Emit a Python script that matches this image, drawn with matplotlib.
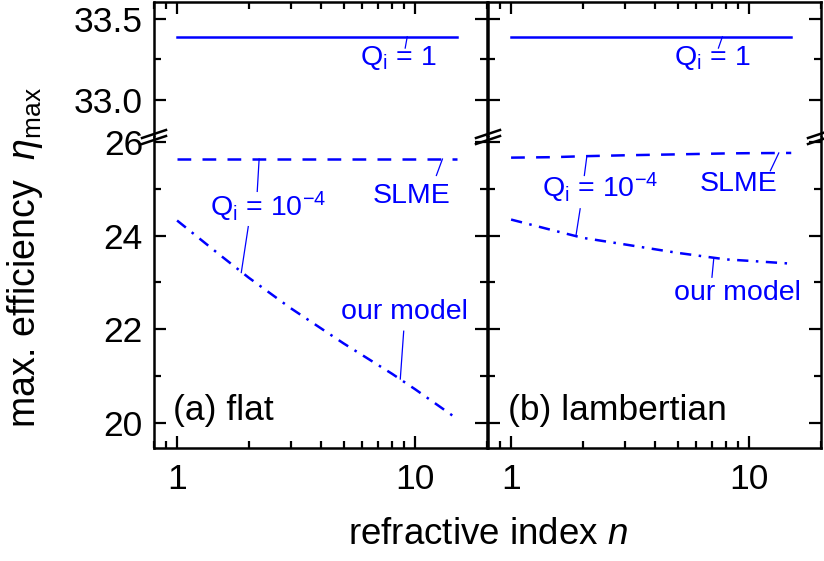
import numpy as np
import matplotlib
matplotlib.use('Agg')
import matplotlib.pyplot as plt
from matplotlib.ticker import LogLocator, NullFormatter, FixedLocator
from matplotlib.lines import Line2D

plt.rcParams['font.family'] = ['Liberation Sans', 'DejaVu Sans']
plt.rcParams['mathtext.fontset'] = 'custom'
plt.rcParams['mathtext.rm'] = 'Liberation Sans'
plt.rcParams['mathtext.it'] = 'Liberation Sans:italic'

# Data
n_vals = [1, 1.5, 2, 3, 5, 8, 10, 15]
q1_flat = [33.39] * 8
q1_lamb = [33.39] * 8
slme_flat = [25.63, 25.63, 25.63, 25.63, 25.63, 25.63, 25.63, 25.63]
slme_lamb = [25.66, 25.67, 25.69, 25.71, 25.73, 25.75, 25.755, 25.76]
model_flat = [24.32, 23.6, 23.1, 22.45, 21.7, 21.05, 20.72, 20.09]
model_lamb = [24.34, 24.11, 23.95, 23.81, 23.63, 23.49, 23.46, 23.40]

blue = '#0000ff'
W, H = 824, 561
fig = plt.figure(figsize=(W / 100, H / 100), dpi=100)

x_left = [154, 488]
pw = 333
top_px, brk_px, bot_px = 2, 137, 448


def fx(px):
    return px / W


def fy(py):
    return 1 - py / H


def style(ax, upper, show_labels):
    ax.set_xscale('log')
    ax.set_xlim(0.8, 20)
    for s in ax.spines.values():
        s.set_linewidth(1.8)
    ax.tick_params(which='both', direction='in', width=1.6, labelsize=25.5,
                   left=True, right=True)
    ax.tick_params(axis='y', pad=8)
    ax.tick_params(axis='x', pad=11)
    ax.tick_params(which='major', length=8.5)
    ax.tick_params(which='minor', length=5)
    ax.xaxis.set_major_locator(FixedLocator([1, 10]))
    ax.xaxis.set_minor_locator(LogLocator(base=10, subs=np.arange(2, 10)))
    ax.xaxis.set_minor_formatter(NullFormatter())
    if upper:
        ax.spines['bottom'].set_visible(False)
        ax.tick_params(axis='x', which='both', top=True, bottom=False,
                       labelbottom=False)
        ax.set_ylim(32.77, 33.605)
        ax.set_yticks([33.0, 33.5])
        ax.set_yticks([33.25], minor=True)
        ax.set_yticklabels(['33.0', '33.5'])
    else:
        ax.spines['top'].set_visible(False)
        ax.tick_params(axis='x', which='both', top=False, bottom=True)
        ax.set_xticklabels(['1', '10'])
        ax.set_ylim(19.47, 26.1)
        ax.set_yticks([20, 22, 24, 26])
        ax.set_yticks([21, 23, 25], minor=True)
    if not show_labels:
        ax.tick_params(axis='y', labelleft=False)


axes = []
for i, xl in enumerate(x_left):
    up = fig.add_axes([fx(xl), fy(brk_px), fx(pw), fy(top_px) - fy(brk_px)])
    lo = fig.add_axes([fx(xl), fy(bot_px), fx(pw), fy(brk_px) - fy(bot_px)])
    style(up, True, i == 0)
    style(lo, False, i == 0)
    axes.append((up, lo))

lw = 1.8
(up_a, lo_a), (up_b, lo_b) = axes
up_a.plot(n_vals, q1_flat, color=blue, lw=lw)
lo_a.plot(n_vals, slme_flat, color=blue, lw=lw, linestyle=(0, (5.5, 4.5)))
lo_a.plot(n_vals, model_flat, color=blue, lw=lw, linestyle=(0, (4.5, 3, 1, 3)))
up_b.plot(n_vals, q1_lamb, color=blue, lw=lw)
lo_b.plot(n_vals, slme_lamb, color=blue, lw=lw, linestyle=(0, (5.5, 4.5)))
lo_b.plot(n_vals, model_lamb, color=blue, lw=lw, linestyle=(0, (4.5, 3, 1, 3)))


def leader(ax, p0, p1):
    ax.plot([p0[0], p1[0]], [p0[1], p1[1]], color=blue, lw=0.9)


fs = 20.5
qi1 = r'Q$_\mathrm{i}$ = 1'
qi4 = r'Q$_\mathrm{i}$ = 10$^{-4}$'

# panel (a)
up_a.text(5.87, 33.26, qi1, color=blue, fontsize=fs, va='center')
leader(up_a, (9.07, 33.32), (9.25, 33.39))
lo_a.text(1.376, 24.6, qi4, color=blue, fontsize=fs, va='center')
leader(lo_a, (2.17, 24.94), (2.21, 25.63))
leader(lo_a, (1.99, 24.19), (1.86, 23.21))
lo_a.text(6.65, 24.85, 'SLME', color=blue, fontsize=fs, va='center')
leader(lo_a, (12.26, 25.28), (13.0, 25.63))
lo_a.text(4.89, 22.36, 'our model', color=blue, fontsize=fs, va='center')
leader(lo_a, (8.94, 21.96), (8.65, 20.94))
lo_a.text(0.96, 20.28, '(a) flat', color='black', fontsize=25.5,
          va='center')

# panel (b)
up_b.text(4.84, 33.26, qi1, color=blue, fontsize=fs, va='center')
leader(up_b, (7.42, 33.32), (7.71, 33.39))
lo_b.text(1.35, 25.02, qi4, color=blue, fontsize=fs, va='center')
leader(lo_b, (2.03, 25.28), (2.08, 25.69))
leader(lo_b, (1.95, 24.57), (1.87, 23.98))
lo_b.text(6.22, 25.1, 'SLME', color=blue, fontsize=fs, va='center')
leader(lo_b, (12.26, 25.38), (13.3, 25.76))
lo_b.text(4.84, 22.77, 'our model', color=blue, fontsize=fs, va='center')
leader(lo_b, (6.97, 23.11), (7.09, 23.5))
lo_b.text(0.97, 20.28, '(b) lambertian', color='black', fontsize=25.5,
          va='center')

# axis break marks
for xp in [154, 488, 820]:
    for dy in [-3, 3]:
        fig.add_artist(Line2D([fx(xp - 12), fx(xp + 12)],
                              [fy(brk_px + dy + 4), fy(brk_px + dy - 4)],
                              color='black', lw=1.8))

fig.text(fx(25), fy(258), r'max. efficiency  $\eta_\mathrm{max}$',
         rotation=90, ha='center', va='center', fontsize=27)
fig.text(fx(488), fy(535), r'refractive index $n$', ha='center',
         va='center', fontsize=26.5)

fig.savefig('out.png', dpi=100)
